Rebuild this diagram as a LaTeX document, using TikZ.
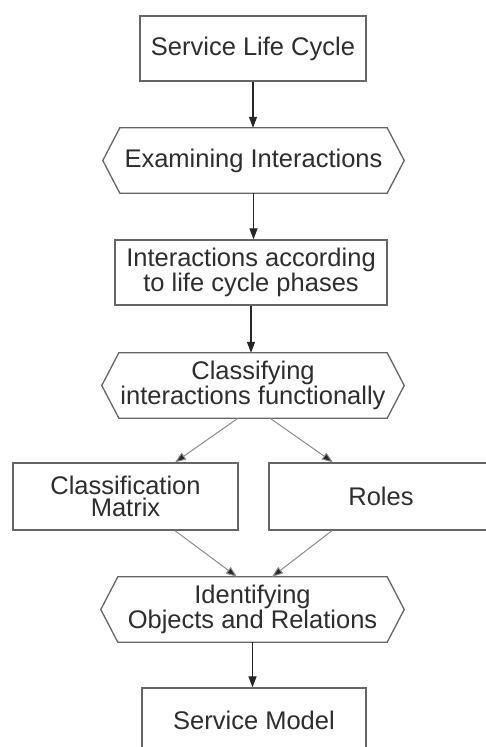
\documentclass[tikz,border=0pt]{standalone}
\usepackage{fontspec}
\setmainfont{Liberation Sans}
\usetikzlibrary{arrows.meta}
\begin{document}
\begin{tikzpicture}[x=1pt,y=-1pt,
  lbl/.style={align=center, inner sep=0pt, text=black!82,
    font=\fontsize{25.5}{22.5}\selectfont},
  box/.style={lbl, draw=black!60, line width=1.3pt, rectangle, fill=white},
  hexa/.style={lbl, rectangle},
  hexline/.style={draw=black!60, line width=1.3pt, fill=white, line join=miter},
  arr/.style={draw=black!85, line width=1.1pt,
    -{Triangle[length=11pt,width=8pt]}},
  darr/.style={draw=black!45, line width=1pt,
    -{Triangle[length=11pt,width=8pt,fill=black!85]}}]
\useasboundingbox (0,0) rectangle (486,747);
\clip (0,0) rectangle (486,747);
\fill[white] (0,0) rectangle (486,747);

% process steps (rectangles)
\node[box, minimum width=226pt, minimum height=65pt] (life) at (253,48.5) {Service Life Cycle};
\node[box, minimum width=272pt, minimum height=65pt] (phases) at (251,272.5) {Interactions according\\to life cycle phases};
\node[box, minimum width=225pt, minimum height=67pt] (matrix) at (125.5,496.5) {Classification\\Matrix};
\node[box, minimum width=224pt, minimum height=67pt] (roles) at (381,496.5) {Roles};
\node[box, minimum width=224pt, minimum height=65pt] (model) at (254,720.5) {Service Model};

% activities (hexagons): the node spans the flat part, the points stick out 17pt
\node[hexa, minimum width=267pt, minimum height=65pt] (exam) at (253.5,160.5) {};
\node[hexa, minimum width=268pt, minimum height=65pt] (classify) at (253,385.5) {};
\node[hexa, minimum width=269pt, minimum height=65pt] (ident) at (252.5,609.5) {};
\foreach \h in {exam,classify,ident}{
  \draw[hexline] (\h.north west) -- (\h.north east) -- ([xshift=17pt]\h.east)
    -- (\h.south east) -- (\h.south west) -- ([xshift=-17pt]\h.west) -- cycle;
}
\node[lbl] at (exam) {Examining Interactions};
\node[lbl] at (classify) {Classifying\\interactions functionally};
\node[lbl] at (ident) {Identifying\\Objects and Relations};

% connectors
\draw[arr] (life.south) -- (life.south |- exam.north);
\draw[arr] (exam.south) -- (exam.south |- phases.north);
\draw[arr] (phases.south) -- (phases.south |- classify.north);
\draw[darr] ([xshift=-15pt]classify.south) -- ([xshift=49.5pt]matrix.north);
\draw[darr] ([xshift=17pt]classify.south) -- ([xshift=-48pt]roles.north);
\draw[darr] ([xshift=49.5pt]matrix.south) -- ([xshift=-15.5pt]ident.north);
\draw[darr] ([xshift=-49pt]roles.south) -- ([xshift=19.5pt]ident.north);
\draw[arr] (ident.south) -- (ident.south |- model.north);
\end{tikzpicture}
\end{document}
